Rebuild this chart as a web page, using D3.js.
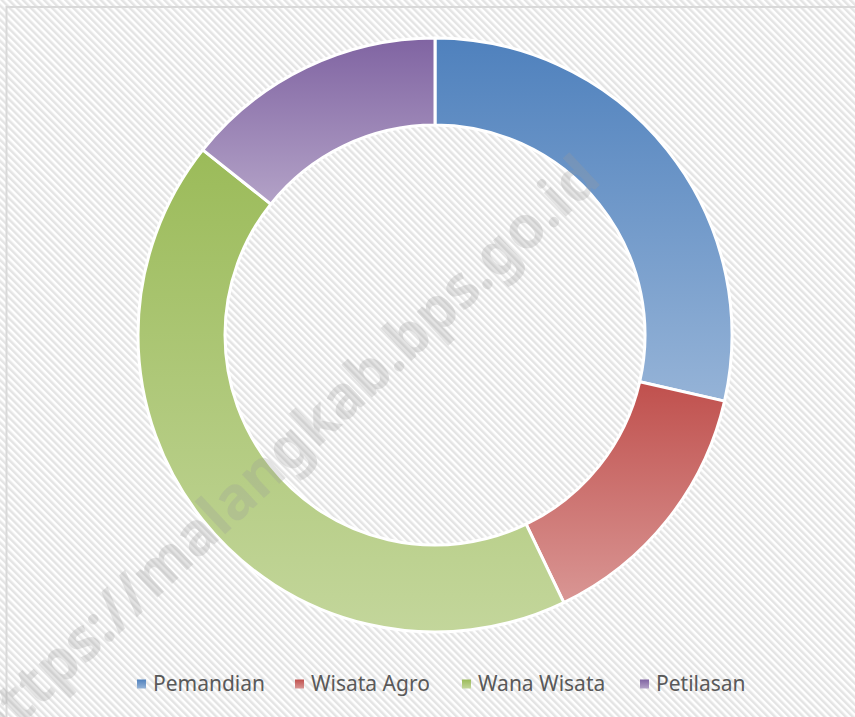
<!DOCTYPE html>
<html>
<head>
<meta charset="utf-8">
<script src="https://cdn.jsdelivr.net/npm/d3@7"></script>
<style>
  body { margin: 0; background: #fff; }
  svg { display: block; }
</style>
</head>
<body>
<div id="chart"></div>
<script>
// data
var categories = ["Pemandian", "Wisata Agro", "Wana Wisata", "Petilasan"];
var values = [20, 10, 30, 10];
var topColors = ["#4f81bd", "#c0504d", "#9bbb59", "#8064a2"];
var bottomColors = ["#95b3d7", "#d99694", "#c3d69b", "#b3a2c7"];
var watermark = "https://malangkab.bps.go.id";

var wdth = 855, hght = 717;
var cx = 435, cy = 335, outerR = 297, innerR = 210;

var svg = d3.select("#chart")
  .append("svg")
  .attr("width", wdth)
  .attr("height", hght);

var defs = svg.append("defs");

// diagonal hatch background
var pat = defs.append("pattern")
  .attr("id", "hatch")
  .attr("patternUnits", "userSpaceOnUse")
  .attr("width", 5)
  .attr("height", 5)
  .attr("patternTransform", "rotate(-45)");
pat.append("rect").attr("width", 5).attr("height", 5).attr("fill", "#ffffff");
pat.append("rect").attr("width", 2.5).attr("height", 5).attr("fill", "#e4e4e4");

categories.forEach(function(c, i){
  var g = defs.append("linearGradient")
    .attr("id", "grad" + i)
    .attr("x1", 0).attr("y1", 0).attr("x2", 0).attr("y2", 1);
  g.append("stop").attr("offset", "0%").attr("stop-color", topColors[i]);
  g.append("stop").attr("offset", "100%").attr("stop-color", bottomColors[i]);
});

svg.append("rect")
  .attr("x", 0).attr("y", 0)
  .attr("width", wdth).attr("height", hght)
  .attr("fill", "url(#hatch)");

// frame (only left and top edges are visible)
svg.append("path")
  .attr("d", "M6.5," + hght + " L6.5,7 L" + wdth + ",7")
  .attr("fill", "none")
  .attr("stroke", "#d9d9d9")
  .attr("stroke-width", 2);

var pie = d3.pie().sort(null).value(function(d){ return d; });
var arc = d3.arc().innerRadius(innerR).outerRadius(outerR);

var donut = svg.append("g")
  .attr("transform", "translate(" + cx + "," + cy + ")");

donut.selectAll(".slice")
  .data(pie(values))
  .enter()
  .append("path")
  .attr("class", "slice")
  .attr("d", arc)
  .attr("fill", function(d, i){ return "url(#grad" + i + ")"; })
  .attr("stroke", "#ffffff")
  .attr("stroke-width", 3)
  .attr("stroke-linejoin", "round");

// legend
var legendX = [137, 295, 462, 640];
var legend = svg.append("g");
var items = legend.selectAll(".item")
  .data(categories)
  .enter()
  .append("g")
  .attr("class", "item")
  .attr("transform", function(d, i){ return "translate(" + legendX[i] + ",684)"; });

items.append("rect")
  .attr("x", 0).attr("y", -4.5)
  .attr("width", 9).attr("height", 9)
  .attr("fill", function(d, i){ return "url(#grad" + i + ")"; });

items.append("text")
  .attr("x", 16)
  .attr("y", 7)
  .attr("font-family", "Noto Sans, sans-serif")
  .attr("font-size", 21)
  .attr("fill", "#595959")
  .text(function(d){ return d; });

// watermark
svg.append("text")
  .attr("transform", "translate(603,182) rotate(-43)")
  .attr("text-anchor", "end")
  .attr("font-family", "Noto Sans, sans-serif")
  .attr("font-weight", "bold")
  .attr("font-size", 59)
  .attr("fill", "#9a9a9a")
  .attr("fill-opacity", 0.27)
  .text(watermark);
</script>
</body>
</html>
